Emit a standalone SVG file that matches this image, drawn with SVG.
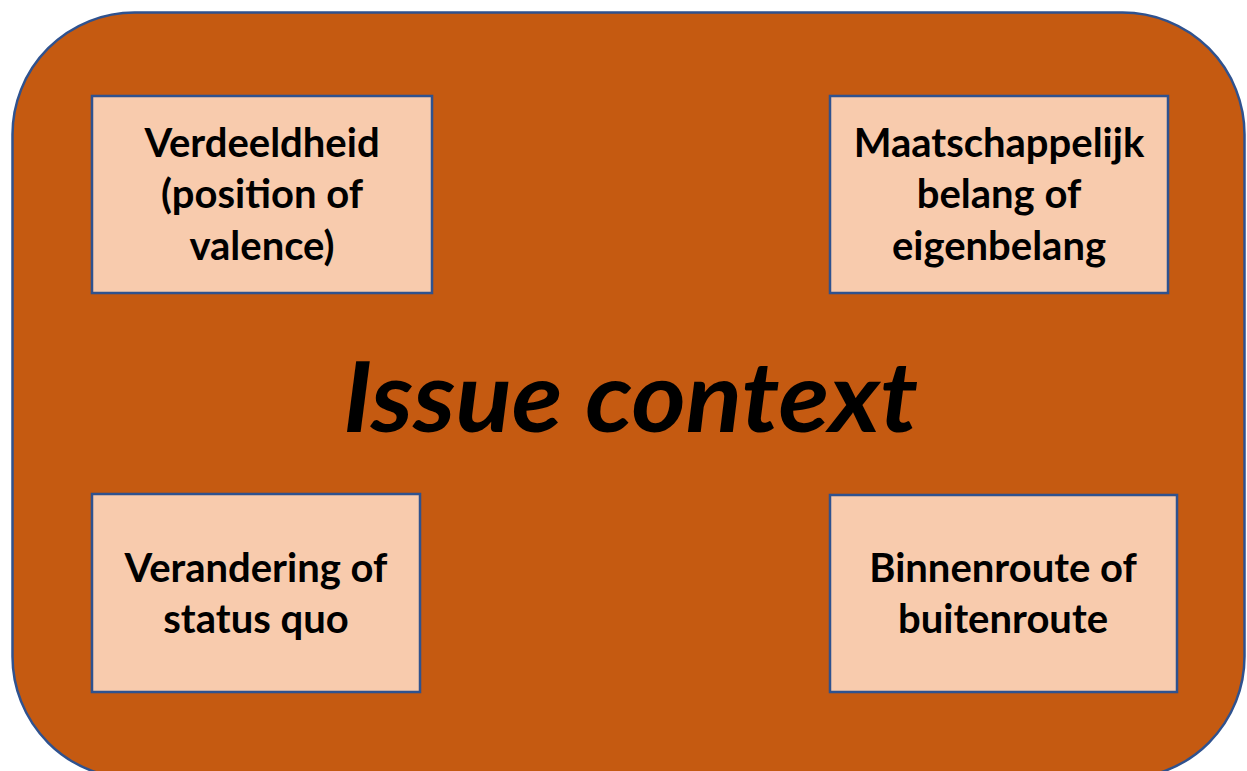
<svg xmlns="http://www.w3.org/2000/svg" width="1247" height="771" viewBox="0 0 1247 771">
<style>
.box{fill:#F8CBAD;stroke:#2F528F;stroke-width:2.5}
.lbl{font-family:Lato,"Open Sans","Liberation Sans",sans-serif;font-weight:bold;font-size:40px;fill:#000;text-anchor:middle}
.title{font-family:Lato,"Open Sans","Liberation Sans",sans-serif;font-weight:bold;font-style:italic;font-size:98px;fill:#000;text-anchor:middle}
</style>
<rect width="1247" height="771" fill="#FFFFFF"/>
<g id="issue-context">
<rect x="12.5" y="12.5" width="1232" height="766" rx="122" ry="122" fill="#C55A11" stroke="#2F528F" stroke-width="2.5"/>
<text class="title" x="630.5" y="432" textLength="575" lengthAdjust="spacingAndGlyphs">Issue context</text>
</g>
<g id="verdeeldheid">
<rect class="box" x="92" y="96" width="340" height="197"/>
<text class="lbl" x="262" y="157">Verdeeldheid</text>
<text class="lbl" x="262" y="208">(position of</text>
<text class="lbl" x="262" y="260">valence)</text>
</g>
<g id="maatschappelijk">
<rect class="box" x="830" y="96" width="338" height="197"/>
<text class="lbl" x="999" y="157">Maatschappelijk</text>
<text class="lbl" x="999" y="208">belang of</text>
<text class="lbl" x="999" y="260">eigenbelang</text>
</g>
<g id="verandering">
<rect class="box" x="92" y="494" width="328" height="198"/>
<text class="lbl" x="256" y="582">Verandering of</text>
<text class="lbl" x="256" y="633">status quo</text>
</g>
<g id="binnenroute">
<rect class="box" x="830" y="495" width="347" height="197"/>
<text class="lbl" x="1003" y="582">Binnenroute of</text>
<text class="lbl" x="1003" y="633">buitenroute</text>
</g>
<g id="connectors"/>
</svg>
